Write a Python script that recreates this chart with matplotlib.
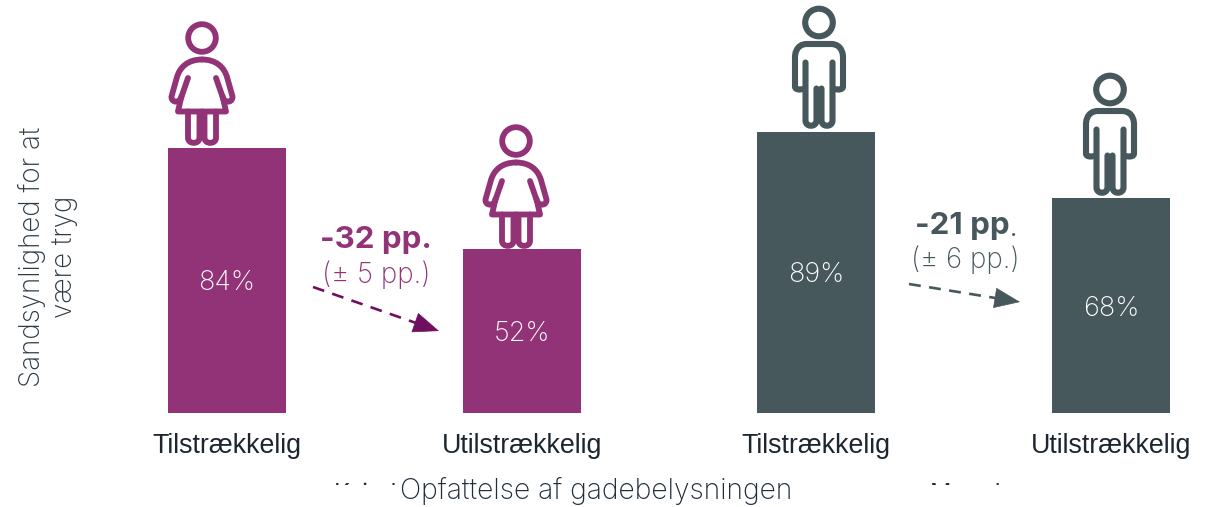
import matplotlib
matplotlib.use("Agg")
import matplotlib.pyplot as plt
from matplotlib.path import Path
from matplotlib.patches import PathPatch, Circle, Rectangle
from matplotlib.transforms import Affine2D

categories = ["Tilstrækkelig", "Utilstrækkelig", "Tilstrækkelig", "Utilstrækkelig"]
values = [84, 52, 89, 68]
value_labels = ["84%", "52%", "89%", "68%"]
groups = ["Kvinder", "Mænd"]
deltas = ["-32 pp.", "-21 pp"]
margins = ["(± 5 pp.)", "(± 6 pp.)"]
xlabel = "Opfattelse af gadebelysningen"
ylabel = "Sandsynlighed for at\nvære tryg"

PURPLE = "#933377"
ARROW_P = "#6E0F5F"
DARK = "#47585C"
INK = "#1F2D3D"
bar_colors = [PURPLE, PURPLE, DARK, DARK]

W, H = 1212, 507
fig = plt.figure(figsize=(W / 100, H / 100), dpi=100, facecolor="white")
ax = fig.add_axes([0, 0, 1, 1])
sx, sy = 294.67, 3.155
x0, y0 = 227, 413
ax.set_xlim(-x0 / sx, (W - x0) / sx)
ax.set_ylim(-(H - y0) / sy, y0 / sy)
ax.axis("off")
xs = list(range(4))

def px(x, y):
    return (x - x0) / sx, (y0 - y) / sy

ax.bar(xs, values, width=118 / sx, color=bar_colors, zorder=2)

BODY = "Inter"
for x, v, lab in zip(xs, values, value_labels):
    ax.text(x, v / 2 - 0.9, lab, color="white", ha="center", va="center", fontsize=19.5, family=BODY,
            fontweight="light", zorder=3)
for i, (x, c) in enumerate(zip(xs, categories)):
    ax.text(x, px(0, 446)[1], c, ha="center", va="center", fontsize=19.3,
            family="Liberation Sans", color="#1c2530")

# group labels, almost entirely hidden by white boxes as in the reference
ax.text(*px(334, 500), groups[0], fontsize=17, family=BODY, color=INK, ha="left", va="baseline", zorder=3)
ax.text(*px(930, 500), groups[1], fontsize=17, family=BODY, color=INK, ha="left", va="baseline", zorder=3)
for (a, b, c, d) in [(320, 485, 700, 22), (395, 470, 535, 37)]:
    l, t = px(a, b)
    r, bt = px(a + c, b + d)
    ax.add_patch(Rectangle((l, bt), r - l, t - bt, fc="white", ec="none", zorder=4))
ax.text(*px(596, 491), xlabel, fontsize=20.3, family=BODY, fontweight="light", color=INK, ha="center", va="center", zorder=5)
ax.text(*px(48, 257), ylabel, fontsize=20, family=BODY, fontweight="light", color="#2d3a44", rotation=90,
        ha="center", va="center", multialignment="center", linespacing=1.22)

# annotations
ax.text(*px(376, 240), deltas[0], fontsize=22.5, fontweight="bold", family=BODY, color=PURPLE, ha="center", va="center")
ax.text(*px(376, 275), margins[0], fontsize=20, family=BODY, fontweight="light", color=PURPLE, ha="center", va="center")
ax.text(*px(962, 226), deltas[1], fontsize=22.5, fontweight="bold", family=BODY, color=DARK, ha="center", va="center")
ax.text(*px(1010, 230), ".", fontsize=18, family=BODY, color=DARK, ha="left", va="center")
ax.text(*px(965, 260), margins[1], fontsize=20, family=BODY, fontweight="light", color=DARK, ha="center", va="center")

def arrow(a, b, color):
    t = 0.85
    mid = (a[0] + (b[0] - a[0]) * t, a[1] + (b[1] - a[1]) * t)
    ax.plot(*zip(px(*a), px(*mid)), color=color, lw=1.9, linestyle=(0, (4.5, 3.2)), zorder=3)
    ax.annotate("", xy=px(*b), xytext=px(*mid),
                arrowprops=dict(arrowstyle="-|>,head_length=1.25,head_width=0.5", color=color, lw=0.5,
                                shrinkA=0, shrinkB=0, mutation_scale=14))
arrow((313, 287), (439, 331), ARROW_P)
arrow((909, 284), (1020, 302), DARK)

def to_disp(cx, cy, s):
    """pixel icon coords (y down, from image top) -> display transform"""
    return Affine2D().scale(s, -s).translate(cx, H - cy)

def stroke(verts, codes, tr, color, lw):
    ax.add_patch(PathPatch(Path(verts, codes), fc="none", ec=color, lw=lw, transform=tr,
                           capstyle="round", joinstyle="round", zorder=3))

M, L, C = Path.MOVETO, Path.LINETO, Path.CURVE4

def woman(cx, top, s, color):
    tr = to_disp(cx, top, s)
    lw = 4.2 * s
    ax.add_patch(Circle((0, 0), 13.8, fc="none", ec=color, lw=lw, transform=tr, zorder=3))
    for m in (-1, 1):
        v = [(0, 21.5), (m*14, 21.5), (m*22, 29), (m*25, 39), (m*30.5, 58.5),
             (m*31, 64), (m*24, 66), (m*21, 60), (m*14, 40)]
        c = [M, C, C, C, L, C, C, C, L]
        stroke(v, c, tr, color, lw)
        stroke([(m*20.5, 58), (m*24, 73.5), (0, 73.5)], [M, L, L], tr, color, lw)
        v = [(m*14, 73.5), (m*14, 100), (m*14, 106.5), (m*2.5, 106.5), (m*2.5, 100), (m*2.5, 76)]
        stroke(v, [M, L, C, C, C, L], tr, color, lw)

def man(cx, top, s, color):
    tr = to_disp(cx, top, s)
    lw = 4.4 * s
    ax.add_patch(Circle((0, 0), 13.8, fc="none", ec=color, lw=lw, transform=tr, zorder=3))
    for m in (-1, 1):
        v = [(0, 21.5), (m*12, 21.5), (m*24, 21.5), (m*24, 34), (m*24, 34), (m*24, 64),
             (m*24, 67), (m*20, 68), (m*14, 66)]
        c = [M, L, C, C, C, L, C, C, C]
        stroke(v, c, tr, color, lw)
        v = [(m*13.5, 40), (m*13.5, 98), (m*13.5, 105), (m*2.5, 105), (m*2.5, 98), (m*2.5, 66)]
        stroke(v, [M, L, C, C, C, L], tr, color, lw)

fig.canvas.draw()
woman(202, 38, 1.0, PURPLE)
woman(516, 141, 1.0, PURPLE)
man(819, 22.5, 1.0, DARK)
man(1110, 89.5, 1.0, DARK)

fig.savefig("out.png", dpi=100, facecolor="white")
